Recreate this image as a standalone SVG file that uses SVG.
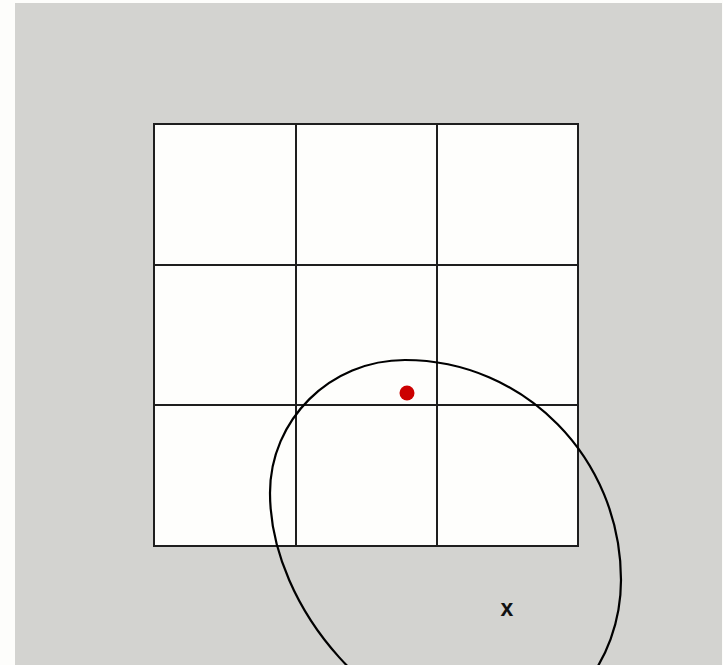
<svg xmlns="http://www.w3.org/2000/svg" width="723" height="665" viewBox="0 0 723 665">
<style>
.grid{fill:#fefefc;stroke:#1e1e1e;stroke-width:2}
.line{stroke:#1e1e1e;stroke-width:2;fill:none}
.ell{fill:none;stroke:#000;stroke-width:2.2}
.lbl{font-family:"Liberation Sans",Arial,sans-serif;font-size:23px;font-weight:bold;fill:#111}
</style>
<rect x="0" y="0" width="723" height="665" fill="#fdfdfb"/>
<rect x="15" y="3" width="707" height="662" fill="#d3d3d0"/>
<g id="grid">
<rect class="grid" x="154" y="124" width="424" height="422"/>
<line class="line" x1="296" y1="124" x2="296" y2="546"/>
<line class="line" x1="437" y1="124" x2="437" y2="546"/>
<line class="line" x1="154" y1="265" x2="578" y2="265"/>
<line class="line" x1="154" y1="405" x2="578" y2="405"/>
</g>
<g id="connectors">
<path class="ell" d="M405,360 C524,360 621,458 621,580 C621,663 562,734 488,734 C382,734 270,610 270,493 C270,420 330,360 405,360 Z"/>
</g>
<g id="dot"><circle cx="407" cy="393" r="7.5" fill="#cc0000"/></g>
<g id="label"><text class="lbl" x="507" y="616" text-anchor="middle">x</text></g>
</svg>
